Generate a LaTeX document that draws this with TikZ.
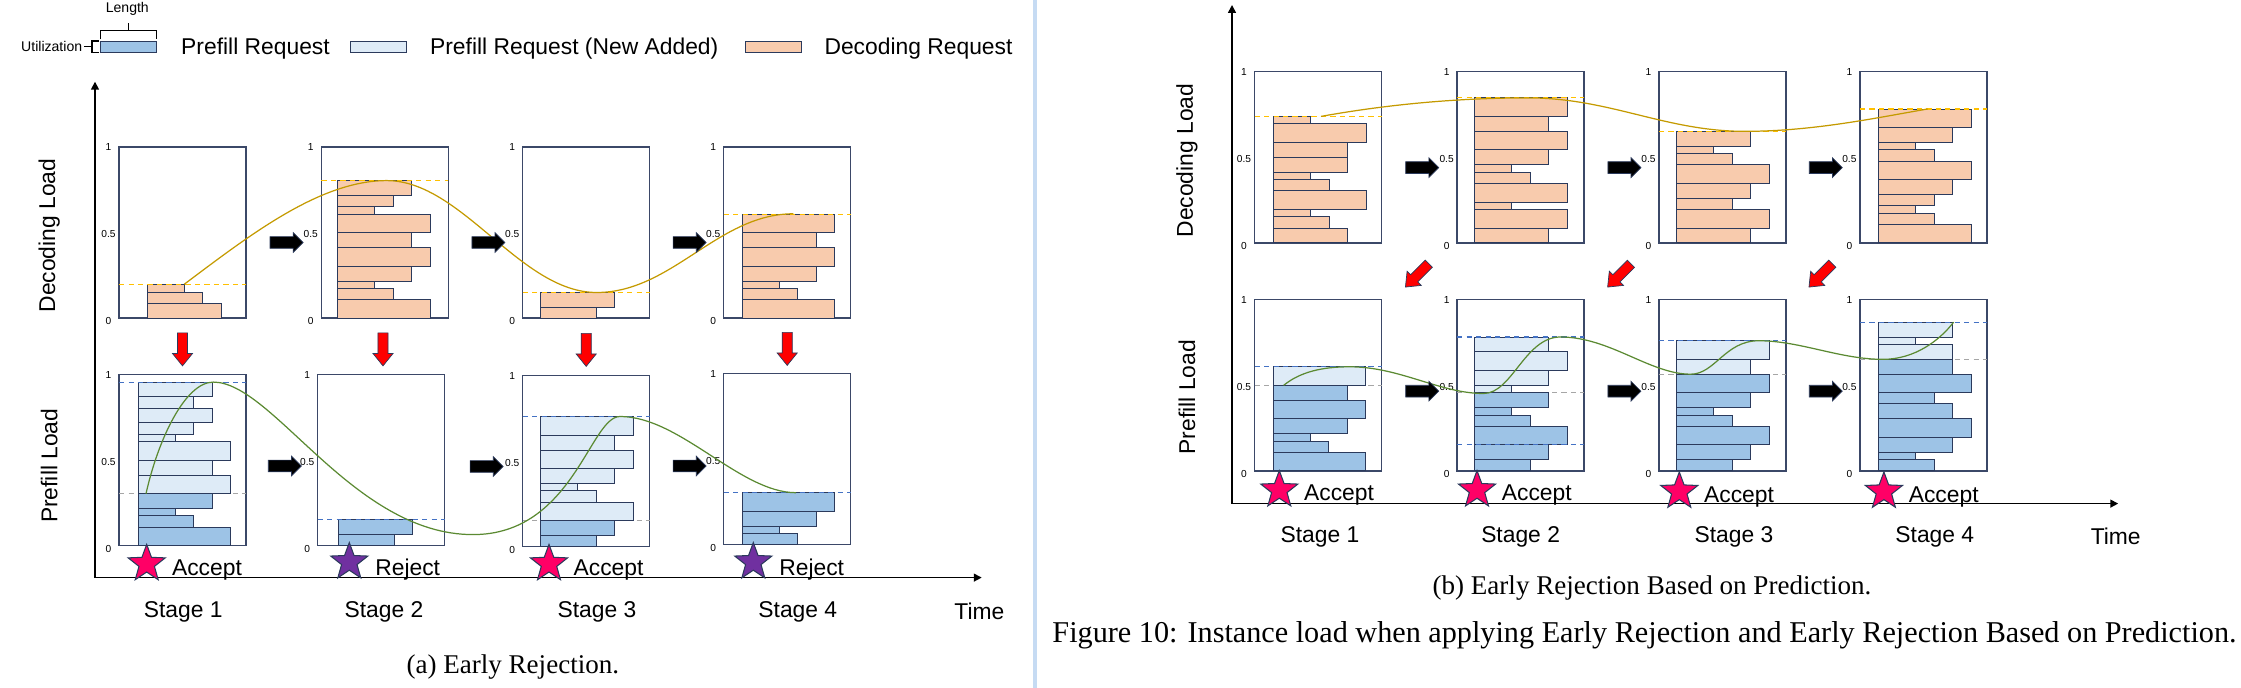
\documentclass[tikz,border=0pt]{standalone}
\usepackage{fontspec}
\setmainfont{Liberation Serif}
\setsansfont{Liberation Sans}
\usepackage{xcolor}
\usepackage{tikz}
\usetikzlibrary{arrows.meta,positioning,calc,shapes.geometric,shapes.arrows}

\definecolor{decfill}{HTML}{F8CBAD}
\definecolor{prefill}{HTML}{9DC3E6}
\definecolor{newfill}{HTML}{DEEBF7}
\definecolor{barline}{HTML}{2B3A5C}
\definecolor{boxline}{HTML}{3B4868}
\definecolor{goldline}{HTML}{C49A00}
\definecolor{golddash}{HTML}{FFC000}
\definecolor{greenline}{HTML}{5B8A32}
\definecolor{bluedash}{HTML}{4472C4}
\definecolor{graydash}{HTML}{A6A6A6}
\definecolor{acceptpink}{HTML}{FF0066}
\definecolor{rejectpurple}{HTML}{7030A0}
\definecolor{sepblue}{HTML}{C6DBF3}

% one request of size k: k*18.5 wide, k*3.72 high
\newcommand\stackbars[5]{%
  \xdef\barlev{#3}%
  \foreach \k in {#5}{%
    \draw[reqbar,fill=#4] ($(#1.south west)+(#2,-\barlev*3.72)$) rectangle ++(\k*18.5,-\k*3.72);
    \pgfmathsetmacro\barnext{\barlev+\k}%
    \xdef\barlev{\barnext}%
  }}
\newcommand\levelline[3]{%
  \draw[#3] ($(#1.south west)+(0,-#2*3.72)$) -- ($(#1.south east)+(0,-#2*3.72)$);}
\newcommand\boxticks[1]{%
  \node[ticklbl] (#1-one) at ($(#1.north west)+(-10.5,0.5)$) {1};
  \node[ticklbl] (#1-half) at ($(#1.west)+(-10.5,1.5)$) {0.5};
  \node[ticklbl] (#1-zero) at ($(#1.south west)+(-10.5,3)$) {0};}

\begin{document}
\begin{tikzpicture}[x=0.02cm,y=-0.02cm,
  lbl/.style={font=\sffamily\fontsize{13}{15}\selectfont,inner sep=0},
  smalllbl/.style={font=\sffamily\fontsize{8}{9.6}\selectfont,inner sep=0},
  ticklbl/.style={font=\sffamily\fontsize{5.8}{7}\selectfont,inner sep=0},
  caplbl/.style={font=\rmfamily\fontsize{15.4}{18}\selectfont,inner sep=0},
  chartbox/.style={rectangle,draw=boxline,line width=0.85pt,minimum width=2.54cm,minimum height=3.43cm,inner sep=0,outer sep=0},
  reqbar/.style={draw=barline,line width=0.55pt},
  legbar/.style={reqbar,rectangle,minimum width=1.12cm,minimum height=0.234cm,inner sep=0,outer sep=0},
  decdash/.style={golddash,dash pattern=on 3pt off 2.4pt,line width=0.6pt},
  predash/.style={bluedash,dash pattern=on 3pt off 2.4pt,line width=0.6pt},
  olddash/.style={graydash,dash pattern=on 3pt off 2.4pt,line width=0.6pt},
  decload/.style={goldline,line width=0.7pt},
  preload/.style={greenline,line width=0.7pt},
  stagearrow/.style={single arrow,fill=black,draw=barline,line width=0.4pt,minimum height=0.66cm,inner xsep=0,inner ysep=0.11cm,single arrow head extend=0.08cm},
  handarrow/.style={single arrow,fill=red,draw=barline,line width=0.4pt,minimum height=0.66cm,inner xsep=0,inner ysep=0.094cm,single arrow head extend=0.1cm,single arrow tip angle=78},
  accept/.style={star,star points=5,star point ratio=2.4,minimum size=0.78cm,inner sep=0,fill=acceptpink,draw=barline,line width=0.6pt},
  reject/.style={accept,fill=rejectpurple},
  axisline/.style={line width=0.9pt,-{Triangle[length=4.5pt,width=4.5pt]}}]
\useasboundingbox (0,0) rectangle (2241,688);
\draw[sepblue,line width=2pt] (1035,0) -- (1035,688);

% legend
\node[legbar,fill=prefill] (legold) at (128.3,46.9) {};
\node[legbar,fill=newfill] (legnew) at (378.8,46.9) {};
\node[legbar,fill=decfill] (legdec) at (773.7,46.9) {};
\node[lbl,anchor=base west] (legoldtxt) at ($(legold.east)+(24.6,8)$) {Prefill Request};
\node[lbl,anchor=base west] (legnewtxt) at ($(legnew.east)+(23,8)$) {Prefill Request (New Added)};
\node[lbl,anchor=base west] (legdectxt) at ($(legdec.east)+(22.5,8)$) {Decoding Request};
\draw[line width=0.6pt] (100.3,39.3) -- (100.3,30.7) -- (156.4,30.7) -- (156.4,39.3) (128.3,30.7) -- (128.3,22.7);
\draw[line width=0.6pt] (99,41) -- (92,41) -- (92,52.7) -- (99,52.7) (92,46.9) -- (84,46.9);
\node[smalllbl] (lenlbl) at (127.3,9) {Length};
\node[smalllbl,anchor=base east] (utillbl) at (82.5,51.5) {Utilization};

% (a) early rejection
\coordinate (aorig) at (95,577.6);
\coordinate (atop) at (95,81.7);
\coordinate (aend) at (981.7,577.6);
\draw[axisline] (aorig) -- (atop);
\draw[axisline] (aorig) -- (aend);
\node[lbl,rotate=90] (adeclbl) at (49.3,235.5) {Decoding Load};
\node[lbl,rotate=90] (aprelbl) at (49.3,465.8) {Prefill Load};

\node[chartbox] (dec1) at (182.5,232.5) {};
\node[chartbox] (dec2) at (384.8,232.5) {};
\node[chartbox] (dec3) at (586.2,232.5) {};
\node[chartbox] (dec4) at (787.2,232.5) {};
\node[chartbox] (pre1) at (182.5,460) {};
\node[chartbox] (pre2) at (381.2,460) {};
\node[chartbox] (pre3) at (586.2,461) {};
\node[chartbox] (pre4) at (787.2,459) {};

\stackbars{dec1}{28.3}{0}{decfill}{4,3,2}
\stackbars{dec2}{16.3}{0}{decfill}{5,3,2,4,5,4,5,2,3,4}
\stackbars{dec3}{18}{0}{decfill}{3,4}
\stackbars{dec4}{18.7}{0}{decfill}{5,3,2,4,5,4,5}
\levelline{pre1}{14}{olddash}
\levelline{pre3}{7}{olddash}
\stackbars{pre1}{19.3}{0}{prefill}{5,3,2,4}
\stackbars{pre1}{19.3}{14}{newfill}{5,4,5,2,3,4,3,4}
\stackbars{pre2}{21}{0}{prefill}{3,4}
\stackbars{pre3}{18}{0}{prefill}{3,4}
\stackbars{pre3}{18}{7}{newfill}{5,3,2,4,5,4,5}
\stackbars{pre4}{18.7}{0}{prefill}{3,2,4,5}
\levelline{dec1}{9}{decdash}
\levelline{dec2}{37}{decdash}
\levelline{dec3}{7}{decdash}
\levelline{dec4}{28}{decdash}
\levelline{pre1}{44}{predash}
\levelline{pre2}{7}{predash}
\levelline{pre3}{35}{predash}
\levelline{pre4}{14}{predash}
\foreach \b in {dec1,dec2,dec3,dec4,pre1,pre2,pre3,pre4}{\boxticks{\b}}

\draw[decload] (184.3,284.2) .. controls (250,235) and (320,180.6) .. (386.7,180.6)
  .. controls (462,180.6) and (520,292.5) .. (596.7,292.5)
  .. controls (672,292.5) and (718,213.8) .. (793.3,213.8);
\draw[preload] (146,493.7) .. controls (158,440) and (185,382.1) .. (213.3,382.1)
  .. controls (273,382.1) and (353,534.6) .. (473,534.6)
  .. controls (573,534.6) and (590,416.5) .. (620,416.5)
  .. controls (680,416.5) and (740,492.7) .. (796,492.7);

\node[stagearrow] (adarr1) at ($(dec1.east)!0.5!(dec2.west)+(0,10)$) {};
\node[stagearrow] (adarr2) at ($(dec2.east)!0.5!(dec3.west)+(0,10)$) {};
\node[stagearrow] (adarr3) at ($(dec3.east)!0.5!(dec4.west)+(0,10)$) {};
\node[stagearrow] (aparr1) at ($(pre1.east)!0.5!(pre2.west)+(0,6)$) {};
\node[stagearrow] (aparr2) at ($(pre2.east)!0.5!(pre3.west)+(0,6)$) {};
\node[stagearrow] (aparr3) at ($(pre3.east)!0.5!(pre4.west)+(0,6)$) {};
\foreach \i in {1,...,4}
  \node[handarrow,rotate=-90] (ahand\i) at ($(dec\i.south)!0.5!(pre\i.north)$) {};

\node[accept] (astar1) at (146.7,563.9) {};
\node[reject] (astar2) at (349.3,562.1) {};
\node[accept] (astar3) at (549,563.9) {};
\node[reject] (astar4) at (753.3,562.1) {};
\node[lbl,anchor=base west] (astar1txt) at ($(astar1)+(25,11.3)$) {Accept};
\node[lbl,anchor=base west] (astar2txt) at ($(astar2)+(25.7,13)$) {Reject};
\node[lbl,anchor=base west] (astar3txt) at ($(astar3)+(24.3,11.3)$) {Accept};
\node[lbl,anchor=base west] (astar4txt) at ($(astar4)+(25.7,13)$) {Reject};

\node[lbl] (astage1) at (183.2,611.7) {Stage 1};
\node[lbl] (astage2) at (384,611.7) {Stage 2};
\node[lbl] (astage3) at (597,611.7) {Stage 3};
\node[lbl] (astage4) at (797.8,611.7) {Stage 4};
\node[lbl] (atime) at (979.4,611.7) {Time};
\node[caplbl] (acap) at (512.8,666.7) {(a) Early Rejection.};

% (b) early rejection based on prediction
\coordinate (borig) at (1232,503.6);
\coordinate (btop) at (1232,5);
\coordinate (bend) at (2118.2,503.6);
\draw[axisline] (borig) -- (btop);
\draw[axisline] (borig) -- (bend);
\node[lbl,rotate=90] (bdeclbl) at (1187,160.6) {Decoding Load};
\node[lbl,rotate=90] (bprelbl) at (1187,397.2) {Prefill Load};

\node[chartbox] (rdec1) at (1318,157.2) {};
\node[chartbox] (rdec2) at (1520.6,157.2) {};
\node[chartbox] (rdec3) at (1722.4,157.2) {};
\node[chartbox] (rdec4) at (1923.3,157.2) {};
\node[chartbox] (rpre1) at (1318,385.2) {};
\node[chartbox] (rpre2) at (1520.6,385.2) {};
\node[chartbox] (rpre3) at (1722.4,385.2) {};
\node[chartbox] (rpre4) at (1923.3,385.2) {};

\stackbars{rdec1}{19.3}{0}{decfill}{4,3,2,5,3,2,4,4,5,2}
\stackbars{rdec2}{17.5}{0}{decfill}{4,5,2,5,3,2,4,5,4,5}
\stackbars{rdec3}{17.9}{0}{decfill}{4,5,3,4,5,3,2,4}
\stackbars{rdec4}{19}{0}{decfill}{5,3,2,3,4,5,3,2,4,5}
\levelline{rpre1}{23}{olddash}
\levelline{rpre2}{21}{olddash}
\levelline{rpre3}{26}{olddash}
\levelline{rpre4}{30}{olddash}
\stackbars{rpre1}{18.9}{0}{prefill}{5,3,2,4,5,4}
\stackbars{rpre1}{18.9}{23}{newfill}{5}
\stackbars{rpre2}{17.5}{0}{prefill}{3,4,5,3,2,4}
\stackbars{rpre2}{17.5}{21}{newfill}{2,4,5,4}
\stackbars{rpre3}{17.9}{0}{prefill}{3,4,5,3,2,4,5}
\stackbars{rpre3}{17.9}{26}{newfill}{4,5}
\stackbars{rpre4}{19}{0}{prefill}{3,2,4,5,4,3,5,4}
\stackbars{rpre4}{19}{30}{newfill}{4,2,4}
\levelline{rdec1}{34}{decdash}
\levelline{rdec2}{39}{decdash}
\levelline{rdec3}{30}{decdash}
\levelline{rdec4}{36}{decdash}
\levelline{rpre1}{28}{predash}
\levelline{rpre2}{36}{predash}
\levelline{rpre2}{7}{predash}
\levelline{rpre3}{35}{predash}
\levelline{rpre4}{40}{predash}
\foreach \b in {rdec1,rdec2,rdec3,rdec4,rpre1,rpre2,rpre3,rpre4}{\boxticks{\b}}

\draw[decload] (1321,116.4) .. controls (1390,104) and (1460,97.9) .. (1528,97.9)
  .. controls (1610,97.9) and (1665,131.35) .. (1745,131.35)
  .. controls (1815,131.35) and (1880,117) .. (1927.7,109);
\draw[preload] (1283.6,385.4) .. controls (1300,372) and (1322,366.8) .. (1349.6,366.8)
  .. controls (1400,366.8) and (1440,393.5) .. (1483.6,393.5)
  .. controls (1512,393.5) and (1525,337) .. (1560.4,337)
  .. controls (1610,337) and (1650,374.2) .. (1690.7,374.2)
  .. controls (1715,374.2) and (1725,340.75) .. (1758.7,340.75)
  .. controls (1800,340.75) and (1840,359.35) .. (1882.9,359.35)
  .. controls (1915,359.35) and (1940,340) .. (1953.6,322.15);

\node[stagearrow] (bdarr1) at ($(rdec1.east)!0.5!(rdec2.west)+(0,10.4)$) {};
\node[stagearrow] (bdarr2) at ($(rdec2.east)!0.5!(rdec3.west)+(0,10.4)$) {};
\node[stagearrow] (bdarr3) at ($(rdec3.east)!0.5!(rdec4.west)+(0,10.4)$) {};
\node[stagearrow] (bparr1) at ($(rpre1.east)!0.5!(rpre2.west)+(0,6)$) {};
\node[stagearrow] (bparr2) at ($(rpre2.east)!0.5!(rpre3.west)+(0,6)$) {};
\node[stagearrow] (bparr3) at ($(rpre3.east)!0.5!(rpre4.west)+(0,6)$) {};
\node[handarrow,rotate=225] (bhand1) at ($(rdec1.south east)!0.5!(rpre2.north west)+(0,2)$) {};
\node[handarrow,rotate=225] (bhand2) at ($(rdec2.south east)!0.5!(rpre3.north west)+(0,2)$) {};
\node[handarrow,rotate=225] (bhand3) at ($(rdec3.south east)!0.5!(rpre4.north west)+(0,2)$) {};

\node[accept] (bstar1) at (1279.3,490.1) {};
\node[accept] (bstar2) at (1477,490.1) {};
\node[accept] (bstar3) at (1679.3,491.5) {};
\node[accept] (bstar4) at (1883.9,491.5) {};
\foreach \i in {1,...,4}
  \node[lbl,anchor=base west] (bstar\i txt) at ($(bstar\i)+(24.5,10.8)$) {Accept};

\node[lbl] (bstage1) at (1320,536.7) {Stage 1};
\node[lbl] (bstage2) at (1520.6,536.7) {Stage 2};
\node[lbl] (bstage3) at (1734,536.7) {Stage 3};
\node[lbl] (bstage4) at (1934.8,536.7) {Stage 4};
\node[lbl] (btime) at (2115.7,536.7) {Time};
\node[caplbl] (bcap) at (1652,588.3) {(b) Early Rejection Based on Prediction.};
\node[caplbl,font=\rmfamily\fontsize{17.2}{20}\selectfont] (figcap) at (1644.5,635) {Figure 10: Instance load when applying Early Rejection and Early Rejection Based on Prediction.};
\end{tikzpicture}
\end{document}
